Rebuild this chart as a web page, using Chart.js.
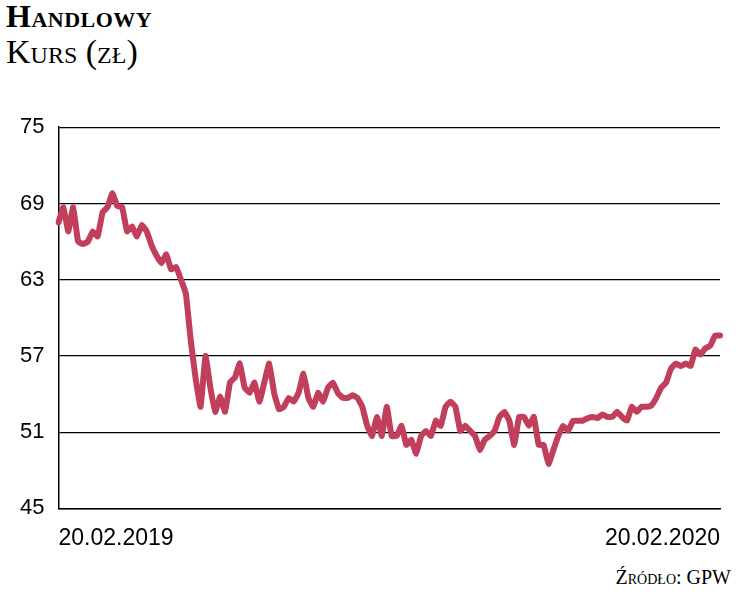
<!DOCTYPE html>
<html><head><meta charset="utf-8">
<script src="https://cdn.jsdelivr.net/npm/chart.js@4/dist/chart.umd.min.js"></script>
<style>
body{margin:0;background:#fff;width:743px;height:593px;position:relative;overflow:hidden;font-family:"Liberation Serif",serif}
#t1{position:absolute;left:6px;top:-2px;font-size:32px;font-weight:bold;font-variant:small-caps;letter-spacing:0.5px}
#t2{position:absolute;left:6px;top:33px;font-size:34px;font-variant:small-caps}
#src{position:absolute;right:12px;top:566px;font-size:20px;font-variant:small-caps}
#wrap{position:absolute;left:0;top:100px;width:730px;height:460px}
</style></head><body>
<div id="t1">Handlowy</div>
<div id="t2">Kurs (zł)</div>
<div id="wrap"><canvas id="c"></canvas></div>
<div id="src">Źródło: GPW</div>
<script>
const prices=[67.5,68.7,66.8,68.7,66,65.8,66,66.8,66.4,68.3,68.7,69.8,68.8,68.7,66.8,67.2,66.4,67.3,66.8,65.7,64.9,64.3,65,63.8,64,63,61.9,58.2,55.2,53,57,54.5,52.6,53.8,52.6,54.9,55.3,56.4,54.5,54.1,54.9,53.4,54.9,56.4,54.1,52.8,53,53.7,53.4,54.1,55.6,53.7,53,54.1,53.4,54.5,54.9,54.1,53.7,53.7,53.9,53.7,53,51.5,50.7,52.2,50.7,53,50.7,50.7,51.5,50,50.4,49.3,50.7,51.1,50.7,51.9,51.5,53,53.4,53,51.1,51.5,51.1,50.7,49.6,50.4,50.7,51.1,52.2,52.6,51.9,50,52.2,52.2,51.5,52.2,50,50,48.5,49.6,50.7,51.5,51.1,51.9,51.9,51.9,52.1,52.2,52.1,52.4,52.2,52.2,52.6,52.2,51.9,53,52.6,53,53,53.1,53.7,54.5,54.9,56,56.4,56.2,56.4,56.2,57.5,57.1,57.6,57.8,58.6,58.6];
const startLabel="20.02.2019", endLabel="20.02.2020";
const labels=prices.map((_,i)=>i===0?startLabel:(i===prices.length-1?endLabel:''));
const yTicks=[45,51,57,63,69,75];
new Chart(document.getElementById('c'),{type:'line',
data:{labels,datasets:[{data:prices,borderColor:'#c23f5c',borderWidth:6,pointRadius:0,tension:0.1,borderJoinStyle:'round',borderCapStyle:'round'}]},
options:{responsive:true,maintainAspectRatio:false,animation:false,
layout:{padding:{top:3,right:10,left:6}},
plugins:{legend:{display:false},tooltip:{enabled:false}},
scales:{
x:{offset:false,grid:{display:false},border:{color:'#000',width:1.5},
 ticks:{autoSkip:false,maxRotation:0,align:'inner',color:'#000',font:{family:'Liberation Sans Narrow, Liberation Sans',size:23},padding:8,callback:(v,i)=>labels[i]}},
y:{min:45,max:75,afterBuildTicks:a=>{a.ticks=yTicks.map(v=>({value:v}))},
 grid:{color:'#000',lineWidth:1.2,drawTicks:false},border:{color:'#000',width:1.5},
 ticks:{color:'#000',font:{family:'Liberation Sans Narrow, Liberation Sans',size:22},padding:14}}
}}});
</script></body></html>
